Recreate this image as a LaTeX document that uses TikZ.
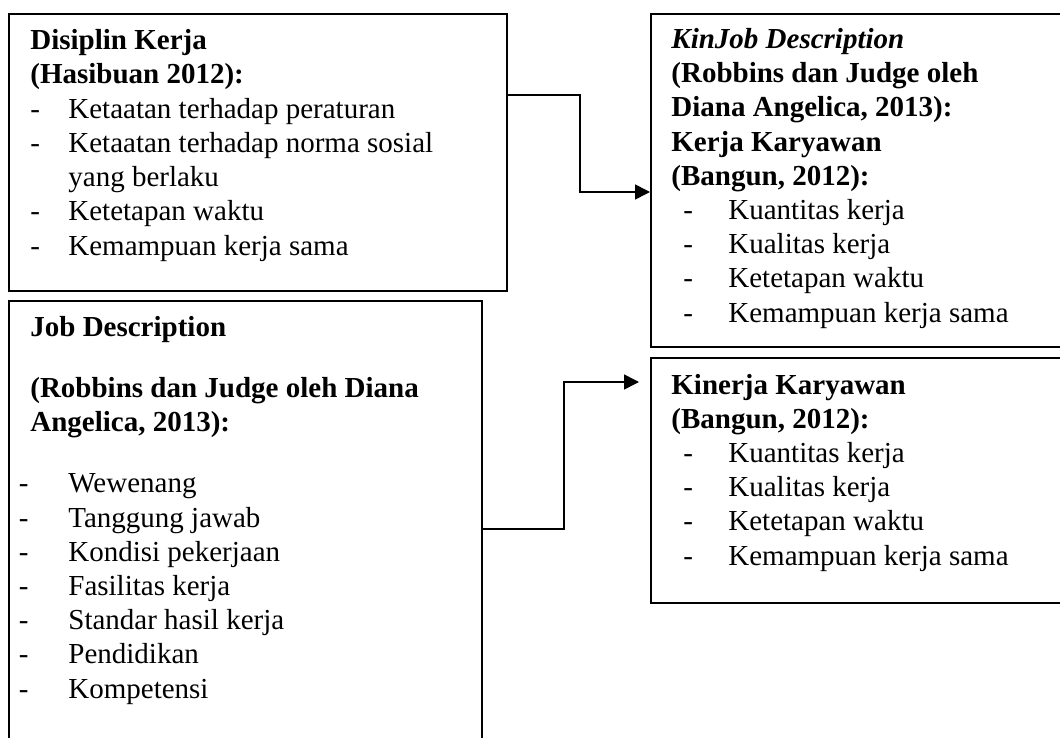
\documentclass[tikz,border=0pt]{standalone}
\usepackage{fontspec}
\setmainfont{Liberation Serif}
\usepackage{tikz}
\usetikzlibrary{arrows.meta, positioning}

\begin{document}
\begin{tikzpicture}[
x=0.5pt, y=-0.5pt,
box/.style={draw, line width=1pt, anchor=north west, inner sep=0pt},
txt/.style={anchor=base west, align=left, inner sep=0pt, font=\fontsize{14.5}{17.1}\selectfont},
arr/.style={-{Triangle[length=7.5pt, width=7.5pt]}, line width=0.8pt}
]
\useasboundingbox (0,0) rectangle (1060,738);

\node[box, minimum width=249pt, minimum height=138.5pt] (disiplin) at (8,13) {};
\node[box, minimum width=236.5pt, minimum height=235pt] (jobdesc) at (8,300) {};
\node[box, minimum width=215pt, minimum height=166.5pt] (kinjob) at (650,13) {};
\node[box, minimum width=215pt, minimum height=122.5pt] (kinerja) at (650,357) {};

% text blocks, placed on the baseline of their last line
\node[txt] (disiplintext) at (30,255) {%
\textbf{Disiplin Kerja}\\
\textbf{(Hasibuan 2012):}\\
\makebox[19pt][l]{-}Ketaatan terhadap peraturan\\
\makebox[19pt][l]{-}Ketaatan terhadap norma sosial\\
\hspace*{19pt}yang berlaku\\
\makebox[19pt][l]{-}Ketetapan waktu\\
\makebox[19pt][l]{-}Kemampuan kerja sama};

\node[txt] (jobdesctext) at (30,698) {%
\textbf{Job Description}\\[13.4pt]
\textbf{(Robbins dan Judge oleh Diana}\\
\textbf{Angelica, 2013):}\\[13.4pt]
\hspace*{-5.7pt}\makebox[24.7pt][l]{-}Wewenang\\
\hspace*{-5.7pt}\makebox[24.7pt][l]{-}Tanggung jawab\\
\hspace*{-5.7pt}\makebox[24.7pt][l]{-}Kondisi pekerjaan\\
\hspace*{-5.7pt}\makebox[24.7pt][l]{-}Fasilitas kerja\\
\hspace*{-5.7pt}\makebox[24.7pt][l]{-}Standar hasil kerja\\
\hspace*{-5.7pt}\makebox[24.7pt][l]{-}Pendidikan\\
\hspace*{-5.7pt}\makebox[24.7pt][l]{-}Kompetensi};

\node[txt] (kinjobtext) at (671,322) {%
\textbf{\textit{KinJob Description}}\\
\textbf{(Robbins dan Judge oleh}\\
\textbf{Diana Angelica, 2013):}\\
\textbf{Kerja Karyawan}\\
\textbf{(Bangun, 2012):}\\
\hspace*{6pt}\makebox[22.5pt][l]{-}Kuantitas kerja\\
\hspace*{6pt}\makebox[22.5pt][l]{-}Kualitas kerja\\
\hspace*{6pt}\makebox[22.5pt][l]{-}Ketetapan waktu\\
\hspace*{6pt}\makebox[22.5pt][l]{-}Kemampuan kerja sama};

\node[txt] (kinerjatext) at (671,565) {%
\textbf{Kinerja Karyawan}\\
\textbf{(Bangun, 2012):}\\
\hspace*{6pt}\makebox[22.5pt][l]{-}Kuantitas kerja\\
\hspace*{6pt}\makebox[22.5pt][l]{-}Kualitas kerja\\
\hspace*{6pt}\makebox[22.5pt][l]{-}Ketetapan waktu\\
\hspace*{6pt}\makebox[22.5pt][l]{-}Kemampuan kerja sama};

\draw[arr] ([yshift=-41pt]disiplin.north east) -- ++(36pt,0) |- ([yshift=-89.5pt]kinjob.north west);
\draw[arr] ([yshift=-114.5pt]jobdesc.north east) -- ++(40.5pt,0) |- ([xshift=-5.5pt, yshift=-12.5pt]kinerja.north west);
\end{tikzpicture}
\end{document}
